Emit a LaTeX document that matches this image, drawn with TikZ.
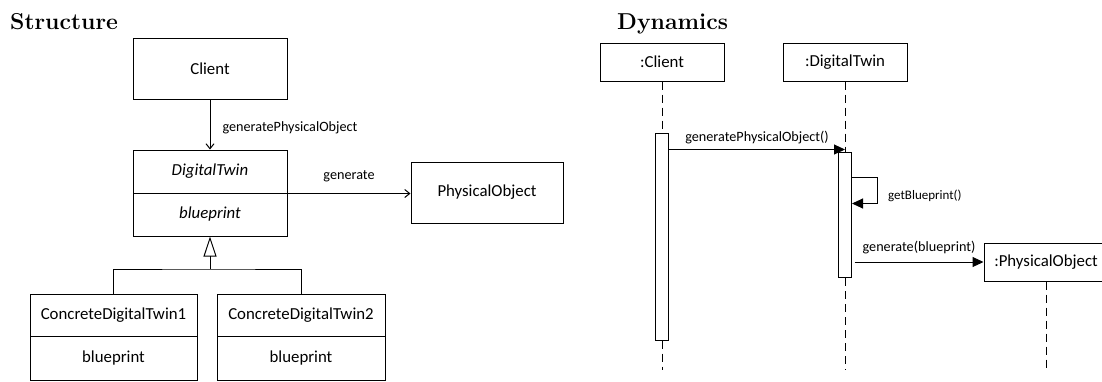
\documentclass[tikz,border=0pt]{standalone}
\usepackage{fontspec}
\newfontfamily\carlito{Carlito}
\usetikzlibrary{arrows.meta}
\begin{document}
\begin{tikzpicture}[x=1pt,y=-1pt,
  box/.style={draw, line width=1pt, inner sep=0pt, fill=white, font=\carlito\fontsize{16.8}{19}\selectfont},
  actbox/.style={draw, line width=1pt, inner sep=0pt, fill=white, minimum width=13},
  lbl/.style={inner sep=0pt, font=\carlito\fontsize{14.2}{16}\selectfont},
  openarr/.style={line width=1pt, -{Straight Barb[length=5pt,width=8pt]}},
  inh/.style={line width=1pt, {Triangle[open,length=20pt,width=13pt]}-},
  msg/.style={line width=1pt, -{Triangle[length=11pt,width=10pt]}},
  life/.style={line width=1pt, dash pattern=on 8pt off 5pt},
  title/.style={inner sep=0pt, anchor=base west, font=\bfseries\fontsize{23}{27}\selectfont}]
\useasboundingbox (0,0) rectangle (1102,381);
\clip (0,0) rectangle (1102,381);

% titles
\node[title] (t1) at (10,29) {Structure};
\node[title] (t2) at (617,29) {Dynamics};

% ---------- Structure ----------
\node[box, minimum width=154, minimum height=61] (client) at (210,68.5) {Client};
\node[box, minimum width=154, minimum height=43] (dt) at (210,171.5) {\itshape DigitalTwin};
\node[box, minimum width=154, minimum height=43] (dtb) at (210,214.5) {\itshape blueprint};
\node[box, minimum width=152, minimum height=61] (po) at (487,192.5) {PhysicalObject};
\node[box, minimum width=167, minimum height=42] (c1) at (113.5,315) {ConcreteDigitalTwin1};
\node[box, minimum width=167, minimum height=44] (c1b) at (113.5,358) {blueprint};
\node[box, minimum width=168, minimum height=42] (c2) at (301,315) {ConcreteDigitalTwin2};
\node[box, minimum width=168, minimum height=44] (c2b) at (301,358) {blueprint};

\draw[openarr] (client) -- (dt) node[lbl, pos=0.57, anchor=west, xshift=12pt] {generatePhysicalObject};
\draw[openarr] (dt.south east) -- (dt.south east -| po.west) node[lbl, midway, yshift=17pt] {generate};

\coordinate (j) at (210,269);
\draw[inh] (dtb.south) -- (j);
\draw[line width=1pt] (c1.north) |- (j) -| (c2.north);

% ---------- Dynamics ----------
\node[box, minimum width=124, minimum height=38] (clS) at (662,62) {:Client};
\node[box, minimum width=124, minimum height=38] (dtS) at (845,62) {:DigitalTwin};
\node[box, minimum width=124, minimum height=38] (poS) at (1046,262) {:PhysicalObject};

\coordinate (clEnd) at (662,370);
\coordinate (dtEnd) at (845,370);
\coordinate (poEnd) at (1046,370);

\draw[life] (clS.south) -- (662,133);
\draw[life] (dtS.south) -- (845,152);
\node[actbox, minimum height=207] (act1) at (662,236.5) {};
\node[actbox, minimum height=125.5] (act2) at (845,214.75) {};
\draw[life] (act1.south) -- (clEnd);
\draw[life] (act2.south) -- (dtEnd);
\draw[life] (poS.south) -- (poEnd);

\draw[msg] ([yshift=-17pt]act1.north east) -- ([yshift=2pt]act2.north)
  node[lbl, midway, yshift=12pt] {generatePhysicalObject()};
\draw[msg] ([yshift=-26pt]act2.north east) -- ++(25,0) -- ++(0,26) -- ([yshift=-52pt]act2.north east);
\node[lbl, anchor=west, font=\carlito\fontsize{13}{15}\selectfont] (gbp) at (888,196) {getBlueprint()};
\draw[msg] (act2.east |- poS.west) ++(2.5,0) -- (poS.west)
  node[lbl, midway, yshift=14pt] {generate(blueprint)};
\end{tikzpicture}
\end{document}
